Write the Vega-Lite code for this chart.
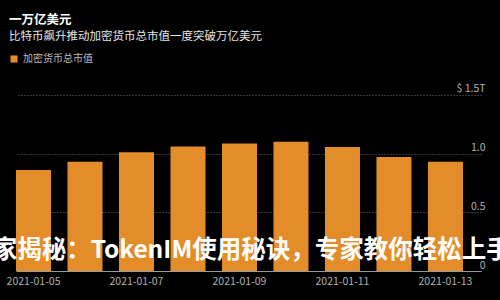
{
  "$schema": "https://vega.github.io/schema/vega-lite/v6.json",
  "width": 465,
  "height": 188,
  "autosize": {"type": "none"},
  "padding": {"left": 16, "top": 83, "right": 19, "bottom": 29},
  "background": "#000000",
  "title": {
    "text": "一万亿美元",
    "subtitle": "比特币飙升推动加密货币总市值一度突破万亿美元",
    "anchor": "start",
    "frame": "group",
    "dx": -7,
    "offset": 12,
    "color": "#ffffff",
    "font": "Noto Sans CJK SC",
    "fontSize": 12.5,
    "fontWeight": "bold",
    "subtitleColor": "#e6e6e6",
    "subtitleFont": "Noto Sans CJK SC",
    "subtitleFontSize": 11.5,
    "subtitlePadding": 4
  },
  "config": {
    "font": "Noto Sans CJK SC",
    "view": {"stroke": null}
  },
  "datasets": {
    "cap": [
      {"date": "2021-01-05", "value": 0.86, "series": "加密货币总市值"},
      {"date": "2021-01-06", "value": 0.93, "series": "加密货币总市值"},
      {"date": "2021-01-07", "value": 1.01, "series": "加密货币总市值"},
      {"date": "2021-01-08", "value": 1.06, "series": "加密货币总市值"},
      {"date": "2021-01-09", "value": 1.085, "series": "加密货币总市值"},
      {"date": "2021-01-10", "value": 1.10, "series": "加密货币总市值"},
      {"date": "2021-01-11", "value": 1.055, "series": "加密货币总市值"},
      {"date": "2021-01-12", "value": 0.97, "series": "加密货币总市值"},
      {"date": "2021-01-13", "value": 0.93, "series": "加密货币总市值"}
    ],
    "mark": [
      {"date": "2021-01-09", "value": 0.17, "label": "专家揭秘：TokenIM使用秘诀，专家教你轻松上手"}
    ]
  },
  "layer": [
    {
      "data": {"name": "cap"},
      "mark": {"type": "bar"},
      "encoding": {
        "x": {
          "field": "date",
          "type": "ordinal",
          "scale": {"paddingInner": 0.32, "paddingOuter": 0.175, "align": 0},
          "axis": {
            "title": null,
            "values": ["2021-01-05", "2021-01-07", "2021-01-09", "2021-01-11", "2021-01-13"],
            "labelAngle": 0,
            "ticks": false,
            "domainColor": "#9a9a9a",
            "labelColor": "#b0b0b0",
            "labelFontSize": 10.5,
            "labelPadding": 5
          }
        },
        "y": {
          "field": "value",
          "type": "quantitative",
          "scale": {"domain": [0, 1.5]},
          "axis": {
            "orient": "right",
            "title": null,
            "values": [0, 0.5, 1, 1.5],
            "labelExpr": "datum.value == 1.5 ? '$ 1.5T' : datum.value == 0 ? '0' : format(datum.value, '.1f')",
            "ticks": false,
            "domain": false,
            "labelAlign": "right",
            "labelBaseline": "bottom",
            "labelPadding": 4,
            "labelOffset": -1,
            "gridDash": [1, 2],
            "gridColor": "#707070",
            "labelColor": "#b0b0b0",
            "labelFontSize": 10.5
          }
        },
        "color": {
          "field": "series",
          "type": "nominal",
          "scale": {"range": ["#E38C2A"]},
          "legend": {
            "orient": "none",
            "legendX": -7,
            "legendY": -29,
            "title": null,
            "symbolType": "square",
            "symbolSize": 50,
            "symbolStrokeWidth": 0,
            "labelColor": "#bbbbbb",
            "labelFontSize": 10,
            "padding": 0
          }
        }
      }
    },
    {
      "data": {"name": "mark"},
      "mark": {
        "type": "text",
        "align": "center",
        "baseline": "middle",
        "color": "#ffffff",
        "fontSize": 24.5,
        "fontWeight": "bold",
        "font": "Noto Sans CJK SC"
      },
      "encoding": {
        "x": {"field": "date", "type": "ordinal"},
        "y": {"field": "value", "type": "quantitative"},
        "text": {"field": "label"}
      }
    }
  ]
}
